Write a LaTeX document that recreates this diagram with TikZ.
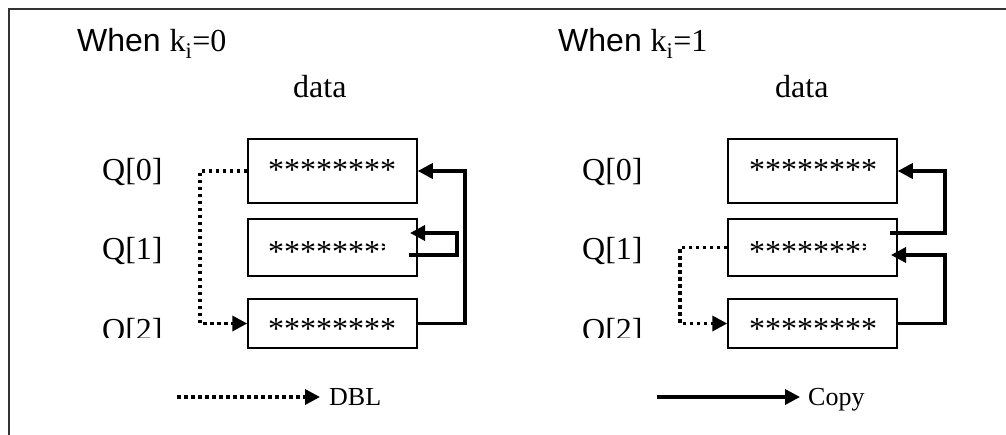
\documentclass[tikz,border=0pt]{standalone}
\usepackage{fontspec}
\setmainfont{Liberation Serif}
\newfontfamily\arialf{Liberation Sans}
\usetikzlibrary{arrows.meta}

\tikzset{
  big/.style={font=\fontsize{32}{36}\selectfont, inner sep=0pt},
  small/.style={font=\fontsize{26}{30}\selectfont, inner sep=0pt},
  reg/.style={draw, line width=1.5pt, minimum width=169pt, inner sep=0pt},
  copyline/.style={line width=3.5pt, -{Triangle[length=15pt,width=15pt]}},
  dblline/.style={line width=3.5pt, dash pattern=on 3.5pt off 3.5pt,
                  -{Triangle[length=15pt,width=15pt]}},
  frame/.style={line width=1.5pt, draw=black!80}
}

\begin{document}
\begin{tikzpicture}[x=1pt, y=-1pt]
\useasboundingbox (0,0) rectangle (1006,435);

% outer frame (top and left edges)
\draw[frame] (9,435) -- (9,9) -- (1006,9);

% ---------- left panel: k_i = 0 ----------
\node[big, anchor=base west] (t0) at (77,52) {{\arialf When }k\textsubscript{i}=0};
\node[big, anchor=base west] (d0) at (293,98) {data};
\node[big, anchor=base west] (lq0) at (102,181) {Q[0]};
\node[big, anchor=base west] (lq1) at (102,260) {Q[1]};
\begin{scope}
  \clip (0,0) rectangle (1006,338);
  \node[big, anchor=base west] (lq2) at (102,341) {Q[2]};
\end{scope}

\node[reg, minimum height=64pt] (L0) at (332.5,171) {};
\node[reg, minimum height=57pt] (L1) at (332.5,247.5) {};
\node[reg, minimum height=49pt] (L2) at (332.5,323.5) {};
\node[big, anchor=base west] (la0) at (268,181) {********};
\begin{scope}
  \clip (250,220) rectangle (384,275);
  \node[big, anchor=base west] (la1) at (268,263) {********};
\end{scope}
\node[big, anchor=base west] (la2) at (268,339) {********};

% copy Q[2] -> Q[0]
\coordinate (lc) at (465,0);
\draw[copyline] (L2.east) -- (lc |- L2.east) |- (L0.east);
% Q[1] kept in place
\coordinate (ls) at (409,255);
\coordinate (lt) at (410,233);
\draw[copyline] (ls) -- (457,255) |- (lt);
% DBL Q[0] -> Q[2]
\coordinate (ld) at (200,0);
\draw[dblline] (L0.west) -- (ld |- L0.west) |- (L2.west);

% legend
\coordinate (dblS) at (177,397);
\node[small, anchor=base west, inner xsep=9pt] (dbl) at (320,405) {DBL};
\draw[dblline] (dblS) -- (dblS -| dbl.west);

% ---------- right panel: k_i = 1 ----------
\node[big, anchor=base west] (t1) at (558,52) {{\arialf When }k\textsubscript{i}=1};
\node[big, anchor=base west] (d1) at (775,98) {data};
\node[big, anchor=base west] (rq0) at (582,181) {Q[0]};
\node[big, anchor=base west] (rq1) at (582,260) {Q[1]};
\begin{scope}
  \clip (0,0) rectangle (1006,338);
  \node[big, anchor=base west] (rq2) at (582,341) {Q[2]};
\end{scope}

\node[reg, minimum height=64pt] (R0) at (812.5,171) {};
\node[reg, minimum height=57pt] (R1) at (812.5,247.5) {};
\node[reg, minimum height=49pt] (R2) at (812.5,323.5) {};
\node[big, anchor=base west] (ra0) at (749,181) {********};
\begin{scope}
  \clip (730,220) rectangle (865,275);
  \node[big, anchor=base west] (ra1) at (749,263) {********};
\end{scope}
\node[big, anchor=base west] (ra2) at (749,339) {********};

% copy Q[1] -> Q[0]
\coordinate (rs) at (890,233);
\draw[copyline] (rs) -- (945,233) |- (R0.east);
% copy Q[2] -> Q[1]
\coordinate (rt) at (891,255);
\draw[copyline] (R2.east) -- (945,323.5) |- (rt);
% DBL Q[1] -> Q[2]
\coordinate (rd) at (680,0);
\draw[dblline] (R1.west) -- (rd |- R1.west) |- (R2.west);

% legend
\coordinate (cpS) at (657,397);
\node[small, anchor=base west, inner xsep=8pt] (cpy) at (800,405) {Copy};
\draw[copyline] (cpS) -- (cpS -| cpy.west);

\end{tikzpicture}
\end{document}
